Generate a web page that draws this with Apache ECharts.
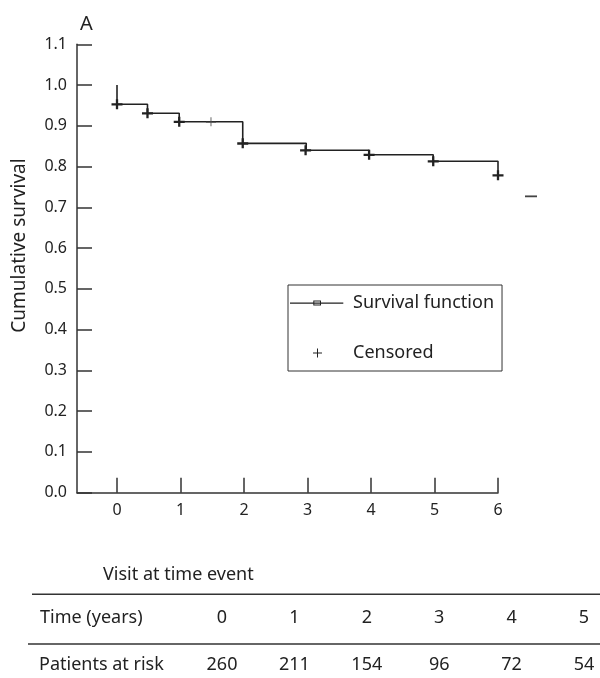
<!DOCTYPE html>
<html>
<head>
<meta charset="utf-8">
<script src="https://cdn.jsdelivr.net/npm/echarts@6/dist/echarts.min.js"></script>
<style>
  html, body { margin: 0; padding: 0; background: #fff; }
  #chart { width: 600px; height: 678px; }
</style>
</head>
<body>
<div id="chart"></div>
<script>
// ---- data ----
const xTickValues = [0, 1, 2, 3, 4, 5, 6];
const stepTimes = [0, 0, 0.48, 0.98, 1.98, 2.98, 3.97, 4.98, 6];
const stepSurvival = [1.0, 0.953, 0.931, 0.910, 0.857, 0.840, 0.829, 0.813, 0.779];
const censoredTimes = [0, 0.48, 0.98, 1.98, 2.97, 3.97, 4.98, 6];
const censoredSurvival = [0.953, 0.931, 0.910, 0.857, 0.840, 0.829, 0.813, 0.779];
const censoredThinTimes = [1.48];
const censoredThinSurvival = [0.910];
const tailTimes = [6.52];
const tailSurvival = [0.727];
const tableTimeLabels = ['0', '1', '2', '3', '4', '5'];
const patientsAtRisk = [260, 211, 154, 96, 72, 54];

// ---- layout ----
const FONT = 'Noto Sans';
const INK = '#222';
const GRID = { left: 77, right: 102, top: 44.3, bottom: 185.3 };
const TFONT = '18px "' + FONT + '"';

const zip = (a, b) => a.map((v, i) => [v, b[i]]);

const boldPlus = 'path://M0,4L11,4L11,6.3L0,6.3Z M4.35,0L6.65,0L6.65,10L4.35,10Z';
const thinPlus = 'path://M0,4.5L10,4.5L10,5.4L0,5.4Z M4.55,0L5.45,0L5.45,9L4.55,9Z';
const legendLineIcon = 'path://M0,0L0.01,0L0.01,0.01Z M59.99,8.99L60,8.99L60,9Z ' +
  'M2,4L55.3,4L55.3,5.2L2,5.2Z M25.3,2L33,2L33,3L25.3,3Z M25.3,6L33,6L33,7L25.3,7Z ' +
  'M25.3,2L26.3,2L26.3,7L25.3,7Z M32,2L33,2L33,7L32,7Z';
const legendPlusIcon = 'path://M0,0L0.01,0L0.01,0.01Z M59.99,8.99L60,8.99L60,9Z ' +
  'M25,4L34,4L34,5L25,5Z M29,0L30,0L30,9L29,9Z';

const colX0 = 222, colStep = 72.4;
const graphics = [
  { type: 'text', x: 103, y: 575, style: { text: 'Visit at time event', font: TFONT, fill: INK, textAlign: 'left', textVerticalAlign: 'middle' } },
  { type: 'line', shape: { x1: 32, y1: 594.3, x2: 600, y2: 594.3 }, style: { stroke: '#333', lineWidth: 1.5 } },
  { type: 'line', shape: { x1: 28, y1: 644, x2: 600, y2: 644 }, style: { stroke: '#333', lineWidth: 1.5 } },
  { type: 'text', x: 40, y: 618, style: { text: 'Time (years)', font: TFONT, fill: INK, textAlign: 'left', textVerticalAlign: 'middle' } },
  { type: 'text', x: 39, y: 665, style: { text: 'Patients at risk', font: TFONT, fill: INK, textAlign: 'left', textVerticalAlign: 'middle' } }
];
tableTimeLabels.forEach((t, i) => {
  graphics.push({ type: 'text', x: colX0 + i * colStep, y: 618, style: { text: t, font: TFONT, fill: INK, textAlign: 'center', textVerticalAlign: 'middle' } });
});
patientsAtRisk.forEach((n, i) => {
  graphics.push({ type: 'text', x: colX0 + i * colStep, y: 665, style: { text: String(n), font: TFONT, fill: INK, textAlign: 'center', textVerticalAlign: 'middle' } });
});

const chart = echarts.init(document.getElementById('chart'), null, { renderer: 'canvas' });
chart.setOption({
  animation: false,
  backgroundColor: '#fff',
  textStyle: { fontFamily: FONT, color: INK },
  title: { text: 'A', left: 75, top: 9, textStyle: { fontFamily: FONT, fontSize: 20, fontWeight: 'normal', color: INK } },
  grid: GRID,
  legend: {
    orient: 'vertical', left: 288, top: 285,
    padding: [9, 8, 9, 0],
    itemGap: 32, itemWidth: 60, itemHeight: 9,
    borderColor: '#333', borderWidth: 1,
    textStyle: { fontFamily: FONT, fontSize: 18, color: INK },
    selectedMode: false,
    data: [
      { name: 'Survival function', icon: legendLineIcon, itemStyle: { color: INK, borderWidth: 0 } },
      { name: 'Censored', icon: legendPlusIcon, itemStyle: { color: INK, borderWidth: 0 } }
    ]
  },
  xAxis: {
    type: 'value', min: -0.63, max: 6,
    axisLine: { onZero: false, lineStyle: { color: '#333', width: 1.5 } },
    axisTick: { show: true, inside: true, length: 15, customValues: xTickValues, lineStyle: { color: '#333', width: 1.5 } },
    axisLabel: { customValues: xTickValues, margin: 10, fontSize: 16, fontFamily: FONT, color: INK },
    splitLine: { show: false }
  },
  yAxis: {
    type: 'value', min: 0, max: 1.1, interval: 0.1,
    name: 'Cumulative survival', nameLocation: 'middle', nameGap: 48,
    nameTextStyle: { fontFamily: FONT, fontSize: 19, color: INK, padding: [0, 0, 0, 46] },
    axisLine: { show: true, onZero: false, lineStyle: { color: '#333', width: 1.5 } },
    axisTick: { show: true, inside: true, length: 15, lineStyle: { color: '#333', width: 1.5 } },
    axisLabel: { margin: 10, fontSize: 16, fontFamily: FONT, color: INK, formatter: v => v.toFixed(1) },
    splitLine: { show: false }
  },
  series: [
    {
      name: 'Survival function', type: 'line', step: 'end',
      data: zip(stepTimes, stepSurvival),
      showSymbol: false, symbol: 'none',
      lineStyle: { color: INK, width: 1.6 }, itemStyle: { color: INK },
      z: 2
    },
    {
      name: 'Censored', type: 'scatter',
      data: zip(censoredTimes, censoredSurvival),
      symbol: boldPlus, symbolSize: [11, 10],
      itemStyle: { color: INK, opacity: 1 }, z: 3
    },
    {
      name: 'Censored (single)', type: 'scatter',
      data: zip(censoredThinTimes, censoredThinSurvival),
      symbol: thinPlus, symbolSize: [10, 9],
      itemStyle: { color: '#555', opacity: 1 }, z: 3
    },
    {
      name: 'Tail', type: 'scatter', clip: false,
      data: zip(tailTimes, tailSurvival),
      symbol: 'rect', symbolSize: [12, 1.8],
      itemStyle: { color: '#444', opacity: 1 }, z: 2
    }
  ],
  graphic: graphics
});
</script>
</body>
</html>
